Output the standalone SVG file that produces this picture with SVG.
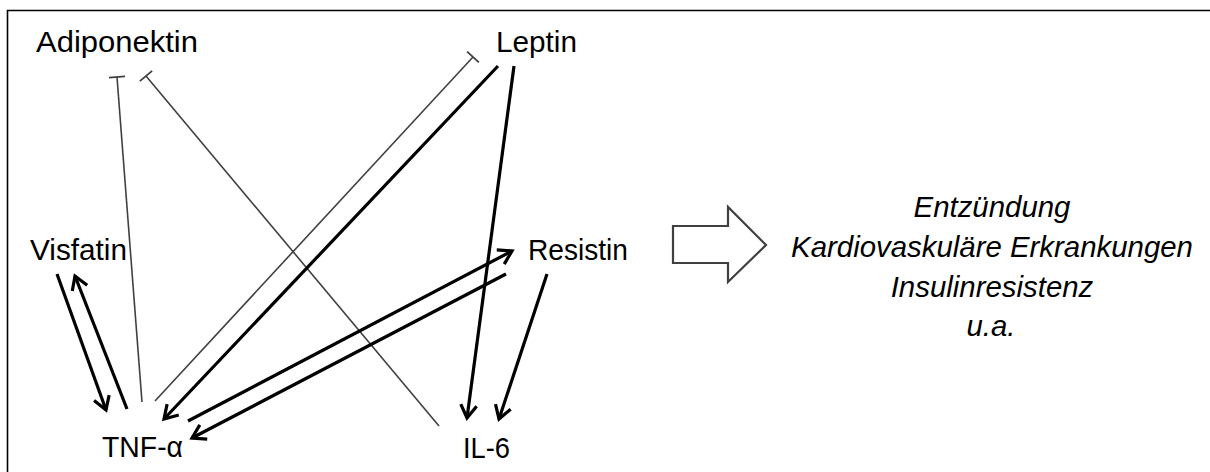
<svg xmlns="http://www.w3.org/2000/svg" width="1210" height="472" viewBox="0 0 1210 472">
<style>
.lbl{font-family:"Liberation Sans",Arial,sans-serif;font-size:30px;fill:#000}
.out{font-family:"Liberation Sans",Arial,sans-serif;font-size:29.4px;font-style:italic;fill:#000;text-anchor:middle}
.act{stroke:#000;stroke-width:3.2;fill:none;marker-end:url(#arr)}
.inh{stroke:#404040;stroke-width:1.6;fill:none;marker-end:url(#bar)}
</style>
<defs>
<marker id="arr" markerUnits="userSpaceOnUse" viewBox="-16 -10 20 20" refX="0" refY="0" markerWidth="20" markerHeight="20" orient="auto" overflow="visible">
<path d="M-13,-8 L0,0 L-13,8" fill="none" stroke="#000" stroke-width="3.2" stroke-linecap="butt"/>
</marker>
<marker id="bar" markerUnits="userSpaceOnUse" viewBox="-4 -10 8 20" refX="0" refY="0" markerWidth="8" markerHeight="20" orient="auto" overflow="visible">
<path d="M0,-8 L0,8" fill="none" stroke="#404040" stroke-width="1.8"/>
</marker>
</defs>
<rect width="1210" height="472" fill="#fff"/>
<path d="M7.5,472 V10.5 H1210" fill="none" stroke="#000" stroke-width="1.6"/>

<g id="connectors">
<line class="inh" x1="142" y1="402" x2="117" y2="77"/>
<line class="inh" x1="439" y1="426" x2="146" y2="76"/>
<line class="inh" x1="155" y1="401" x2="473" y2="57"/>
<line class="act" x1="498" y1="66" x2="164" y2="419"/>
<line class="act" x1="514" y1="66" x2="467" y2="418"/>
<line class="act" x1="547" y1="274" x2="499" y2="419"/>
<line class="act" x1="188" y1="421" x2="512" y2="251"/>
<line class="act" x1="506" y1="274" x2="192" y2="438"/>
<line class="act" x1="57" y1="274" x2="106" y2="410"/>
<line class="act" x1="127" y1="409" x2="75" y2="276"/>
</g>

<g id="adiponektin"><text class="lbl" x="36" y="52" textLength="162" lengthAdjust="spacingAndGlyphs">Adiponektin</text></g>
<g id="leptin"><text class="lbl" x="496" y="52" textLength="81" lengthAdjust="spacingAndGlyphs">Leptin</text></g>
<g id="visfatin"><text class="lbl" x="30" y="260" textLength="97" lengthAdjust="spacingAndGlyphs">Visfatin</text></g>
<g id="resistin"><text class="lbl" x="528" y="260" textLength="100" lengthAdjust="spacingAndGlyphs">Resistin</text></g>
<g id="tnf"><text class="lbl" x="102" y="457" textLength="81" lengthAdjust="spacingAndGlyphs">TNF-α</text></g>
<g id="il6"><text class="lbl" x="463" y="458" textLength="47" lengthAdjust="spacingAndGlyphs">IL-6</text></g>

<g id="blockarrow">
<path d="M673,226 H728 V207 L766,245 L728,282 V263 H673 Z" fill="#fff" stroke="#404040" stroke-width="2.2" stroke-linejoin="miter"/>
</g>

<g id="outcomes">
<text class="out" x="992" y="217">Entzündung</text>
<text class="out" x="992" y="257">Kardiovaskuläre Erkrankungen</text>
<text class="out" x="992" y="297">Insulinresistenz</text>
<text class="out" x="991" y="336">u.a.</text>
</g>
</svg>
